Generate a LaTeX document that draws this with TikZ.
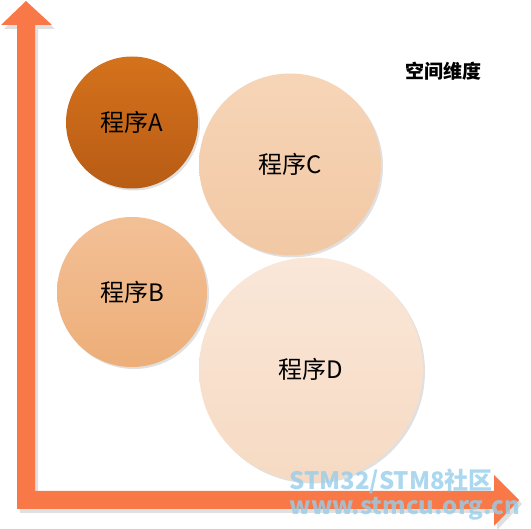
\documentclass[tikz,border=0pt]{standalone}
\usepackage{fontspec}
\setmainfont{Noto Sans CJK SC}
\usepackage{xcolor}
\usetikzlibrary{shadows}

\definecolor{axisor}{RGB}{249,120,72}
\definecolor{progAtop}{RGB}{212,114,28}
\definecolor{progAbot}{RGB}{184,92,21}
\definecolor{progBtop}{RGB}{243,192,150}
\definecolor{progBbot}{RGB}{237,174,120}
\definecolor{progCtop}{RGB}{246,213,183}
\definecolor{progCbot}{RGB}{242,200,164}
\definecolor{progDtop}{RGB}{250,231,216}
\definecolor{progDbot}{RGB}{246,218,195}
\definecolor{wmark}{RGB}{150,205,235}

\begin{document}
\begin{tikzpicture} [
       x=1pt, y=-1pt,
       prog/.style={circle, inner sep=0pt, shading=axis,
               font=\fontsize{24}{28}\selectfont,
               drop shadow={shadow xshift=2pt, shadow yshift=-2pt, fill=black!12, opacity=1}},
       axis/.style={fill=axisor, drop shadow={shadow xshift=3pt, shadow yshift=-4pt, fill=black!12, opacity=1}},
       wm/.style={text=wmark, opacity=0.8, font=\bfseries\fontsize{24}{25}\selectfont, inner sep=0pt, align=left},
       ]
       \useasboundingbox (0,0) rectangle (531,529);
       % axes
       \path[axis] (17,509) -- (17,25) -- (1,25) -- (26,1) -- (52,25) -- (35,25) -- (35,509) -- cycle;
       \path[axis] (17,491) -- (494,491) -- (494,475) -- (519,500) -- (494,526) -- (494,509) -- (17,509) -- cycle;
       % programs
       \node (progA) [prog, minimum size=132pt, top color=progAtop, bottom color=progAbot] at (132,122.5) {程序A};
       \node (progC) [prog, minimum size=182pt, top color=progCtop, bottom color=progCbot] at (290,164.5) {程序C};
       \node (progB) [prog, minimum size=150pt, top color=progBtop, bottom color=progBbot] at (132,292) {程序B};
       \node (progD) [prog, minimum size=224pt, top color=progDtop, bottom color=progDbot] at (311,369.5) {程序D};
       \node (title) [font=\bfseries\fontsize{19}{21}\selectfont] at (443,71) {空间维度};
       % watermark
       \node (wmark) [wm] at (405,495) {STM32/STM8社区\\www.stmcu.org.cn};
\end{tikzpicture}
\end{document}
